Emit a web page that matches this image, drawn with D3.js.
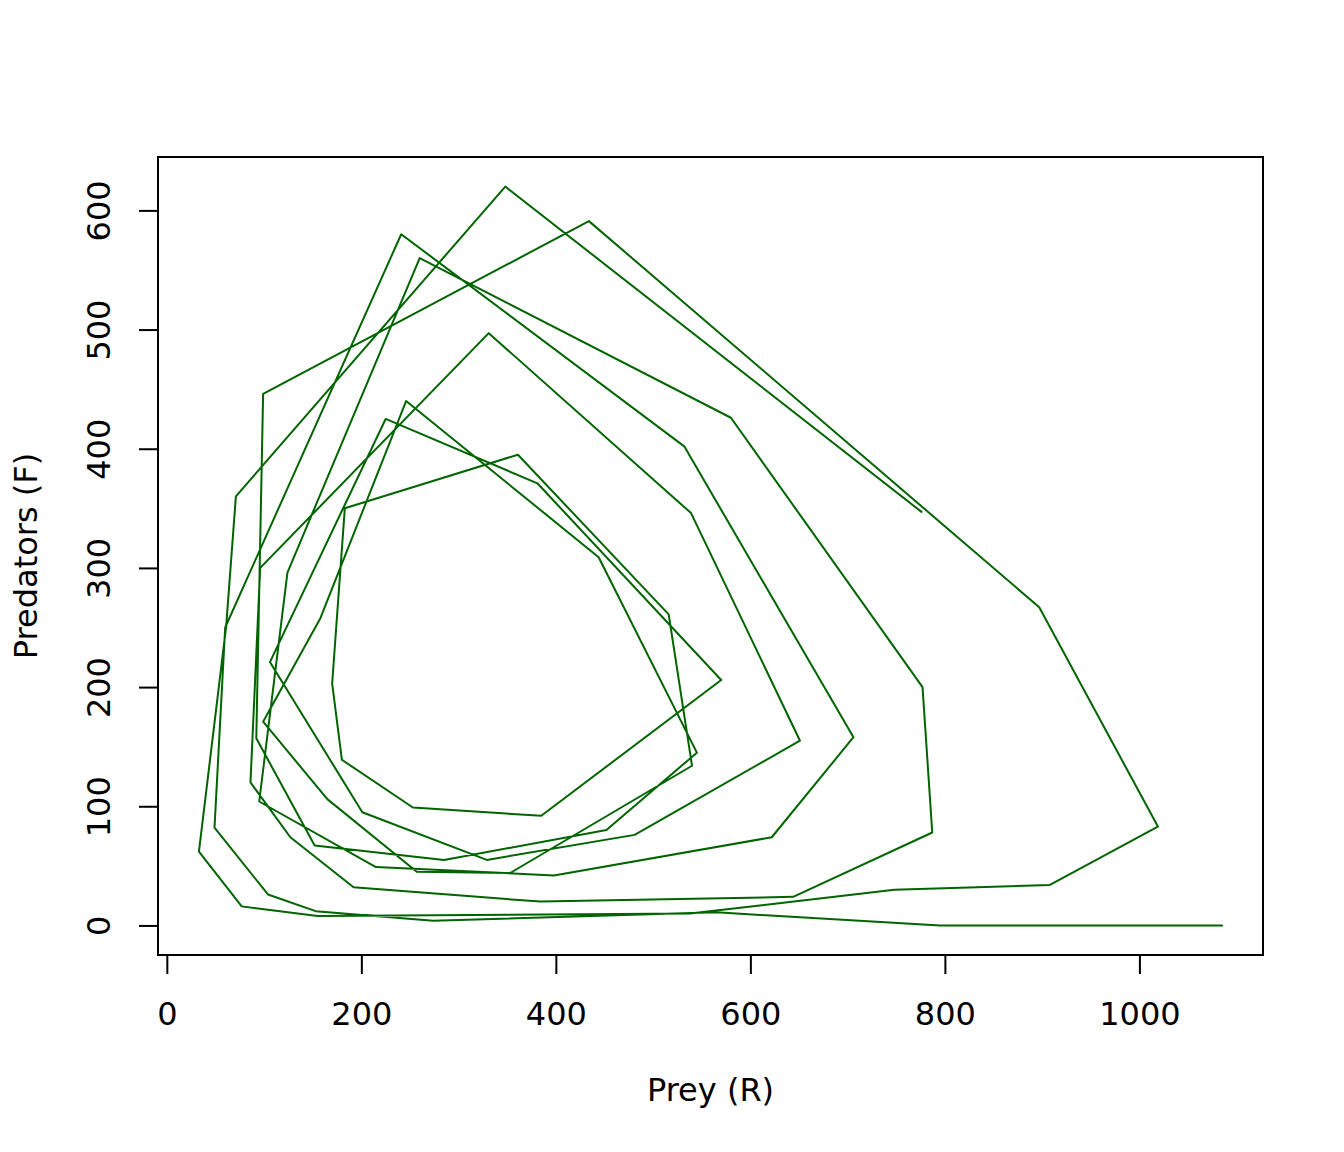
<!DOCTYPE html>
<html>
<head>
<meta charset="utf-8">
<script src="https://cdn.jsdelivr.net/npm/d3@7"></script>
<style>
  html, body { margin: 0; padding: 0; background: #ffffff; }
  svg { display: block; }
  text { font-family: "DejaVu Sans", sans-serif; fill: #000; }
</style>
</head>
<body>
<script>
// Prey (R) and Predators (F) trajectory, in time order
const prey = [776,348,71,61,33,77,155,538,748,908,
              1019,897,434,99,92,152,285,452,545,444,
              246,158,99,165,257,353,540,516,361,183,
              170,180,253,385,570,381,225,106,201,329,
              481,651,539,331,96,86,127,192,384,644,
              787,777,580,260,124,95,215,398,622,706,
              532,241,60,49,104,153,274,565,795,1085,
              908];
const predators = [347,620,360,251,62,16,8,10,30,34,
                   83,267,591,446,157,67,55,80,145,309,
                   440,258,171,106,45,44,134,261,395,350,
                   203,139,99,92,206,371,425,221,95,55,
                   76,155,346,497,300,120,74,32,20,24,
                   78,200,426,560,296,104,49,42,74,158,
                   402,580,250,82,26,12,4,11,0,0,
                   0];
const xTicks = [0,200,400,600,800,1000];
const yTicks = [0,100,200,300,400,500,600];
const xLabel = "Prey (R)";
const yLabel = "Predators (F)";

const W = 1344, H = 1152;
const plot = {left: 158, right: 1263, top: 157, bottom: 955};
const FS = 32;

function rRange(vals) {
  const [lo, hi] = d3.extent(vals);
  const pad = (hi - lo) * 0.04;
  return [lo - pad, hi + pad];
}

const x = d3.scaleLinear().domain(rRange(prey)).range([plot.left, plot.right]);
const y = d3.scaleLinear().domain(rRange(predators)).range([plot.bottom, plot.top]);

const svg = d3.select("body").append("svg")
  .attr("width", W).attr("height", H)
  .attr("viewBox", `0 0 ${W} ${H}`);

svg.append("rect").attr("width", W).attr("height", H).attr("fill", "#ffffff");

const pts = prey.map((p, i) => [p, predators[i]]);

svg.append("path")
  .datum(pts)
  .attr("fill", "none")
  .attr("stroke", "#006400")
  .attr("stroke-width", 2)
  .attr("stroke-linejoin", "round")
  .attr("stroke-linecap", "round")
  .attr("d", d3.line().x(d => x(d[0])).y(d => y(d[1])));

// box
svg.append("rect")
  .attr("x", plot.left).attr("y", plot.top)
  .attr("width", plot.right - plot.left).attr("height", plot.bottom - plot.top)
  .attr("fill", "none").attr("stroke", "#000").attr("stroke-width", 2);

// x axis
const xAxis = d3.axisBottom(x).tickValues(xTicks).tickSize(19).tickFormat(d3.format("d"));
const gx = svg.append("g").attr("transform", `translate(0,${plot.bottom})`).call(xAxis);
gx.select(".domain").attr("d", `M${x(xTicks[0])},0H${x(xTicks[xTicks.length-1])}`)
  .attr("stroke", "#000").attr("stroke-width", 2);
gx.selectAll(".tick line").attr("stroke", "#000").attr("stroke-width", 2);
gx.selectAll(".tick text").attr("font-size", FS).attr("font-family", "DejaVu Sans")
  .attr("fill", "#000").attr("dy", null).attr("y", 70);

// y axis
const yAxis = d3.axisLeft(y).tickValues(yTicks).tickSize(19).tickFormat(d3.format("d"));
const gy = svg.append("g").attr("transform", `translate(${plot.left},0)`).call(yAxis);
gy.select(".domain").attr("d", `M0,${y(yTicks[0])}V${y(yTicks[yTicks.length-1])}`)
  .attr("stroke", "#000").attr("stroke-width", 2);
gy.selectAll(".tick line").attr("stroke", "#000").attr("stroke-width", 2);
gy.selectAll(".tick text").remove();
gy.selectAll(".tick").append("text")
  .attr("transform", "translate(-48,0) rotate(-90)")
  .attr("text-anchor", "middle")
  .attr("font-size", FS)
  .attr("font-family", "DejaVu Sans")
  .attr("fill", "#000")
  .text(d => d);

// axis titles
svg.append("text")
  .attr("x", (plot.left + plot.right) / 2).attr("y", 1101)
  .attr("text-anchor", "middle").attr("font-size", FS)
  .text(xLabel);

svg.append("text")
  .attr("transform", `translate(37,${(plot.top + plot.bottom) / 2}) rotate(-90)`)
  .attr("text-anchor", "middle").attr("font-size", FS)
  .text(yLabel);
</script>
</body>
</html>
